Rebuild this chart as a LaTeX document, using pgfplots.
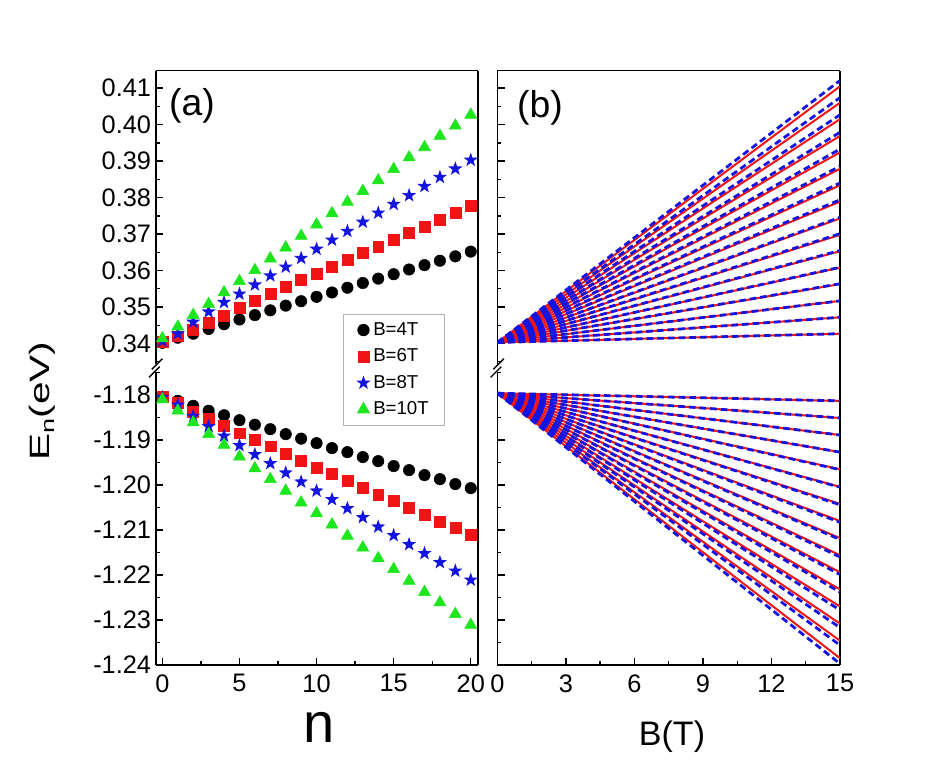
\documentclass[border=0pt]{standalone}
\usepackage{fontspec}
\setmainfont{Liberation Sans}
\usepackage{pgfplots}
\pgfplotsset{compat=1.18}
\usepackage{pgfplotstable}

\definecolor{mred}{RGB}{240,20,20}
\definecolor{mblue}{RGB}{20,20,225}
\definecolor{mgreen}{RGB}{30,230,30}

\pgfdeclareplotmark{fstar}{%
  \pgfpathmoveto{\pgfpointpolar{90}{\pgfplotmarksize}}%
  \pgfpathlineto{\pgfpointpolar{126}{0.40\pgfplotmarksize}}%
  \pgfpathlineto{\pgfpointpolar{162}{\pgfplotmarksize}}%
  \pgfpathlineto{\pgfpointpolar{198}{0.40\pgfplotmarksize}}%
  \pgfpathlineto{\pgfpointpolar{234}{\pgfplotmarksize}}%
  \pgfpathlineto{\pgfpointpolar{270}{0.40\pgfplotmarksize}}%
  \pgfpathlineto{\pgfpointpolar{306}{\pgfplotmarksize}}%
  \pgfpathlineto{\pgfpointpolar{342}{0.40\pgfplotmarksize}}%
  \pgfpathlineto{\pgfpointpolar{18}{\pgfplotmarksize}}%
  \pgfpathlineto{\pgfpointpolar{54}{0.40\pgfplotmarksize}}%
  \pgfpathclose\pgfusepathqfill}

\pgfplotstableread{
n b4 b6 b8 b10
0 0.3402 0.3404 0.3407 0.3414
1 0.3416 0.3420 0.3427 0.3446
2 0.3427 0.3438 0.3459 0.3478
3 0.3440 0.3457 0.3487 0.3508
4 0.3453 0.3477 0.3513 0.3540
5 0.3466 0.3498 0.3536 0.3571
6 0.3478 0.3518 0.3561 0.3601
7 0.3491 0.3537 0.3586 0.3633
8 0.3504 0.3556 0.3610 0.3663
9 0.3516 0.3574 0.3634 0.3695
10 0.3528 0.3592 0.3659 0.3726
11 0.3540 0.3611 0.3684 0.3757
12 0.3553 0.3630 0.3708 0.3788
13 0.3566 0.3648 0.3733 0.3818
14 0.3578 0.3666 0.3758 0.3847
15 0.3590 0.3684 0.3782 0.3878
16 0.3603 0.3703 0.3806 0.3910
17 0.3615 0.3721 0.3831 0.3938
18 0.3627 0.3739 0.3856 0.3969
19 0.3639 0.3758 0.3879 0.3997
20 0.3652 0.3777 0.3903 0.4027
}\tabU

\pgfplotstableread{
n b4 b6 b8 b10
0 -1.1804 -1.1804 -1.1805 -1.1810
1 -1.1813 -1.1817 -1.1822 -1.1835
2 -1.1824 -1.1837 -1.1847 -1.1861
3 -1.1835 -1.1852 -1.1870 -1.1887
4 -1.1845 -1.1868 -1.1891 -1.1911
5 -1.1856 -1.1885 -1.1912 -1.1937
6 -1.1866 -1.1900 -1.1932 -1.1963
7 -1.1876 -1.1914 -1.1952 -1.1987
8 -1.1887 -1.1931 -1.1973 -1.2013
9 -1.1897 -1.1946 -1.1993 -1.2039
10 -1.1907 -1.1961 -1.2013 -1.2063
11 -1.1918 -1.1976 -1.2032 -1.2088
12 -1.1927 -1.1991 -1.2052 -1.2113
13 -1.1938 -1.2006 -1.2072 -1.2139
14 -1.1947 -1.2021 -1.2093 -1.2163
15 -1.1958 -1.2036 -1.2112 -1.2187
16 -1.1967 -1.2051 -1.2132 -1.2213
17 -1.1978 -1.2066 -1.2152 -1.2238
18 -1.1987 -1.2081 -1.2172 -1.2261
19 -1.1998 -1.2096 -1.2191 -1.2287
20 -1.2007 -1.2110 -1.2211 -1.2311
}\tabL

\pgfplotsset{
  panel/.style={
    scale only axis,
    tick align=inside,
    axis line style={line width=1.2pt,-},
    every tick/.style={line width=1pt,black},
    major tick length=5.5pt,
    minor tick length=3pt,
    tick label style={font=\fontsize{19}{19}\selectfont},
    /pgf/number format/assume math mode=true,
    ytick pos=left,
  },
  uppery/.style={
    ymin=0.3333, ymax=0.4148,
    ytick={0.34,0.35,0.36,0.37,0.38,0.39,0.40,0.41},
    minor ytick={0.335,0.345,0.355,0.365,0.375,0.385,0.395,0.405},
    axis x line*=top, axis y line*=box, xtick=\empty,
  },
  lowery/.style={
    ymin=-1.24, ymax=-1.174,
    ytick={-1.24,-1.23,-1.22,-1.21,-1.20,-1.19,-1.18},
    minor ytick={-1.235,-1.225,-1.215,-1.205,-1.195,-1.185,-1.175},
    axis x line*=bottom, axis y line*=box, xtick pos=bottom,
    xticklabel style={yshift=-3.5pt},
  },
  s4/.style={only marks, mark=*, mark size=4.3pt, black},
  s6/.style={only marks, mark=square*, mark size=4.1pt, mred},
  s8/.style={only marks, mark=fstar, mark size=5.6pt, mblue},
  s10/.style={only marks, mark=triangle*, mark size=5.2pt, mgreen},
  rl/.style={mred, line width=1.5pt},
  bl/.style={mblue, line width=2.1pt, dash pattern=on 5pt off 3pt},
}

\begin{document}
\begin{tikzpicture}
\path[use as bounding box] (0,0) rectangle (711pt,582.75pt);

% ---------- panel (a), upper ----------
\begin{axis}[panel, uppery,
  at={(116.8pt,306.75pt)}, anchor=south west,
  width=241.7pt, height=223pt,
  xmin=-0.43, xmax=20.47,
  yticklabels={0.34,0.35,0.36,0.37,0.38,0.39,0.40,0.41}]
\addplot[s4] table[x=n,y=b4] {\tabU};
\addplot[s6] table[x=n,y=b6] {\tabU};
\addplot[s8] table[x=n,y=b8] {\tabU};
\addplot[s10] table[x=n,y=b10] {\tabU};
\node[font=\fontsize{28}{28}\selectfont] at (axis description cs:0.1126,0.881) {(a)};
\end{axis}

% ---------- panel (a), lower ----------
\begin{axis}[panel, lowery,
  at={(116.8pt,84pt)}, anchor=south west,
  width=241.7pt, height=222.75pt,
  xmin=-0.43, xmax=20.47,
  xtick={0,5,10,15,20}, minor xtick={2.5,7.5,12.5,17.5},
  yticklabels={-1.24,-1.23,-1.22,-1.21,-1.20,-1.19,-1.18},
  xlabel={n},
  xlabel style={at={(axis description cs:0.5067,-0.2626)}, anchor=base, font=\fontsize{42}{42}\selectfont},
  ylabel={\scalebox{1.45}[1]{E\raisebox{-0.35ex}{\fontsize{14}{14}\selectfont n}(eV)}},
  ylabel style={at={(axis description cs:-0.353,0.889)}, anchor=center, font=\fontsize{21}{21}\selectfont},
  legend style={at={(axis description cs:0.58,1.181)}, anchor=north west,
    draw=gray!60, line width=0.6pt, fill=white,
    font=\fontsize{14}{14}\selectfont, row sep=4.6pt,
    inner xsep=10pt, inner ysep=4pt},
  legend cell align=left]
\addplot[s4] table[x=n,y=b4] {\tabL};
\addplot[s6] table[x=n,y=b6] {\tabL};
\addplot[s8] table[x=n,y=b8] {\tabL};
\addplot[s10] table[x=n,y=b10] {\tabL};
\legend{B=4T,B=6T,B=8T,B=10T}
\end{axis}

% ---------- panel (b), upper ----------
\begin{axis}[panel, uppery,
  at={(373pt,306.75pt)}, anchor=south west,
  width=257pt, height=223pt,
  xmin=0, xmax=15,
  yticklabels={}]
\pgfplotsinvokeforeach{0.3427,0.3472,0.3517,0.3563,0.3608,0.3653,0.3698,0.3743,0.3789,0.3834,0.3879,0.3924,0.3969,0.4015,0.4060,0.4105}{
  \addplot[rl] coordinates {(0,0.3403) (15,#1)};
}
\pgfplotsinvokeforeach{0.3427,0.3472,0.3517,0.3564,0.3609,0.3655,0.3701,0.3746,0.3794,0.3840,0.3886,0.3933,0.3979,0.4027,0.4074,0.4121}{
  \addplot[bl] coordinates {(0,0.3403) (15,#1)};
}
\node[font=\fontsize{28}{28}\selectfont] at (axis description cs:0.1246,0.875) {(b)};
\end{axis}

% ---------- panel (b), lower ----------
\begin{axis}[panel, lowery,
  at={(373pt,84pt)}, anchor=south west,
  width=257pt, height=222.75pt,
  xmin=0, xmax=15,
  xtick={0,3,6,9,12,15}, minor xtick={1.5,4.5,7.5,10.5,13.5},
  yticklabels={},
  xlabel={B(T)},
  xlabel style={at={(axis description cs:0.5098,-0.2694)}, anchor=base, font=\fontsize{25.5}{25.5}\selectfont}]
\pgfplotsinvokeforeach{-1.1813,-1.1851,-1.1889,-1.1927,-1.1965,-1.2004,-1.2042,-1.2080,-1.2118,-1.2156,-1.2194,-1.2232,-1.2270,-1.2308,-1.2346,-1.2385}{
  \addplot[rl] coordinates {(0,-1.1796) (15,#1)};
}
\pgfplotsinvokeforeach{-1.1813,-1.1851,-1.1889,-1.1927,-1.1966,-1.2005,-1.2044,-1.2083,-1.2121,-1.2160,-1.2199,-1.2238,-1.2278,-1.2317,-1.2356,-1.2397}{
  \addplot[bl] coordinates {(0,-1.1796) (15,#1)};
}
\end{axis}

% ---------- axis break symbols ----------
\foreach \xx in {116.8pt,373pt}{
  \fill[white] (\xx-2pt,306.75pt-3pt) rectangle (\xx+2pt,306.75pt+3pt);
  \draw[line width=1pt] (\xx-5pt,306.75pt-7pt) -- (\xx+3pt,306.75pt+1pt);
  \draw[line width=1pt] (\xx-3pt,306.75pt-1pt) -- (\xx+5pt,306.75pt+7pt);
}
\end{tikzpicture}
\end{document}
